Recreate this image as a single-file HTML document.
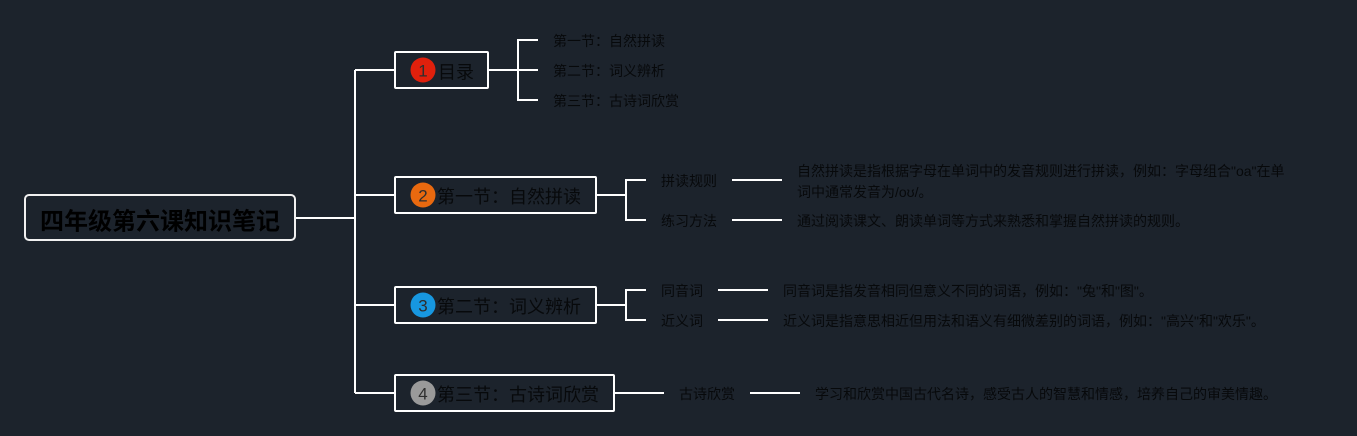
<!DOCTYPE html>
<html lang="zh">
<head>
<meta charset="utf-8">
<style>
html,body{margin:0;padding:0;background:#1c232c;width:1357px;height:436px;overflow:hidden}
svg{display:block}
text{font-family:"Liberation Sans","Noto Sans CJK SC",sans-serif;fill:#07090b}
.s{font-size:14px}
.m{font-size:18px}
.n{font-size:17px;fill:#2e2e2e;text-anchor:middle}
.l{stroke:#fff;stroke-width:2;fill:none}
</style>
</head>
<body>
<svg width="1357" height="436" viewBox="0 0 1357 436" xmlns="http://www.w3.org/2000/svg">
<rect width="1357" height="436" fill="#1c232c"/>
<!-- connectors -->
<path class="l" d="M296 218H355M355 393V70M355 70H395M355 195H395M355 305H395M355 393H395"/>
<path class="l" d="M488 70H518M518 40V100M517 40H538M518 70H538M517 100H538"/>
<path class="l" d="M596 195H626M626 180V220M625 180H646M625 220H646M732 180H782M732 220H782"/>
<path class="l" d="M596 305H626M626 290V320M625 290H646M625 320H646M718 290H768M718 320H768"/>
<path class="l" d="M614 393H664M750 393H800"/>
<!-- root -->
<rect x="25" y="195" width="270" height="45" rx="4" fill="#1c232c" stroke="#f0f0f0" stroke-width="2"/>
<text x="40" y="229.500" font-size="24" font-weight="700" style="fill:#000">四年级第六课知识笔记</text>
<!-- topic boxes -->
<rect x="395" y="52" width="93" height="36" rx="1" class="l"/>
<rect x="395" y="177" width="201" height="36" rx="1" class="l"/>
<rect x="395" y="287" width="201" height="36" rx="1" class="l"/>
<rect x="395" y="375" width="219" height="36" rx="1" class="l"/>
<!-- icons -->
<circle cx="423" cy="70" r="12.500" fill="#e0200c"/>
<text class="n" x="423" y="76.500">1</text>
<circle cx="423" cy="195" r="12.500" fill="#e9690f"/>
<text class="n" x="423" y="201.500">2</text>
<circle cx="423" cy="305" r="12.500" fill="#1797e0"/>
<text class="n" x="423" y="311.500">3</text>
<circle cx="423" cy="393" r="12.500" fill="#9a9a9a"/>
<text class="n" x="423" y="399.500">4</text>
<!-- topic text -->
<text class="m" x="438" y="78.500">目录</text>
<text class="m" x="437" y="203">第一节：自然拼读</text>
<text class="m" x="437" y="313">第二节：词义辨析</text>
<text class="m" x="437" y="401">第三节：古诗词欣赏</text>
<!-- level 2 -->
<text class="s" x="553" y="46">第一节：自然拼读</text>
<text class="s" x="553" y="76">第二节：词义辨析</text>
<text class="s" x="553" y="106">第三节：古诗词欣赏</text>
<text class="s" x="661" y="186">拼读规则</text>
<text class="s" x="661" y="226">练习方法</text>
<text class="s" x="661" y="296">同音词</text>
<text class="s" x="661" y="326">近义词</text>
<text class="s" x="679" y="399">古诗欣赏</text>
<!-- details -->
<text class="s" x="797" y="176">自然拼读是指根据字母在单词中的发音规则进行拼读，例如：字母组合"oa"在单</text>
<text class="s" x="797" y="197">词中通常发音为/oʊ/。</text>
<text class="s" x="797" y="226">通过阅读课文、朗读单词等方式来熟悉和掌握自然拼读的规则。</text>
<text class="s" x="783" y="296">同音词是指发音相同但意义不同的词语，例如："兔"和"图"。</text>
<text class="s" x="783" y="326">近义词是指意思相近但用法和语义有细微差别的词语，例如："高兴"和"欢乐"。</text>
<text class="s" x="815" y="399">学习和欣赏中国古代名诗，感受古人的智慧和情感，培养自己的审美情趣。</text>
</svg>
</body>
</html>
